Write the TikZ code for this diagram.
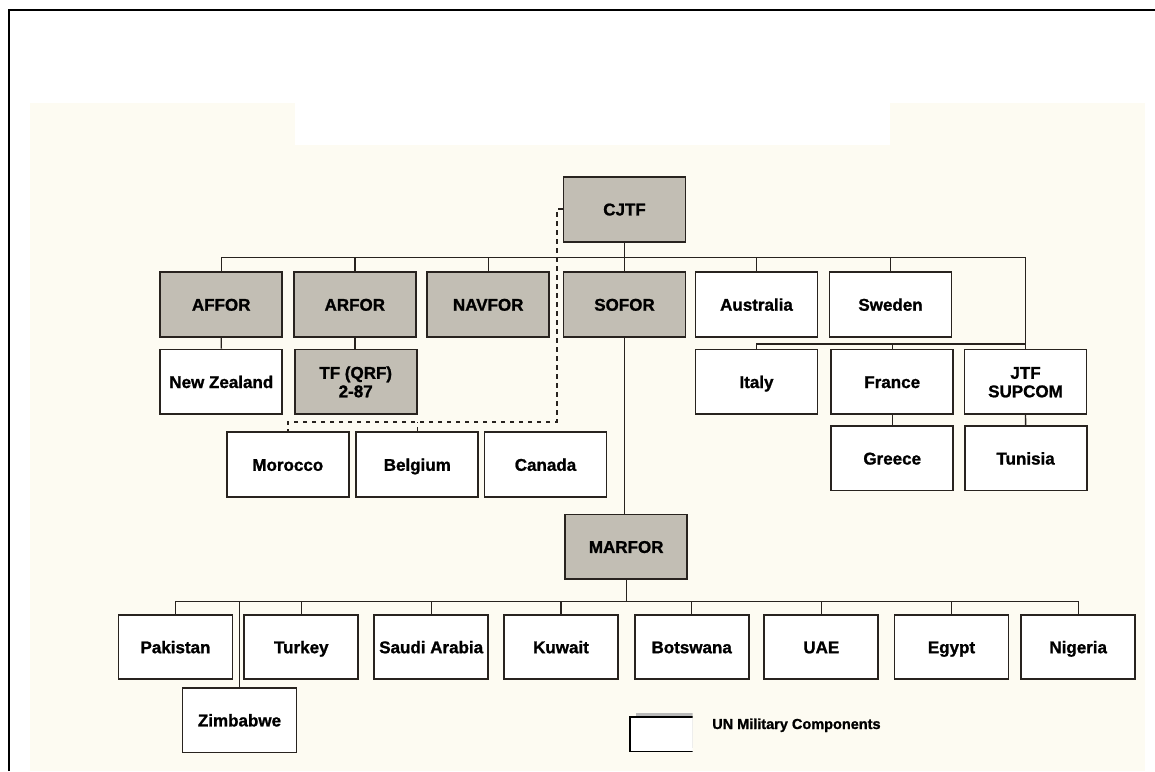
\documentclass[tikz,border=0pt]{standalone}
\usepackage{fontspec}
\setmainfont{Liberation Sans}[BoldFeatures={FakeBold=1.2}]
\usepackage{tikz}
\usepackage{xcolor}

\definecolor{scancream}{RGB}{253,251,242}
\definecolor{unitgray}{RGB}{194,190,180}
\definecolor{inkline}{RGB}{40,35,31}

\begin{document}
\begin{tikzpicture}[
    x=1pt, y=-1pt,
    unit/.style={draw=inkline, line width=1.8pt, rectangle, minimum width=122pt, minimum height=64.5pt, inner sep=0pt, align=center, text height=12.4pt, text depth=0pt, font=\fontsize{17}{18.5}\selectfont\bfseries},
    cmd/.style={unit, fill=unitgray},
    un/.style={unit, fill=white},
    nation/.style={un, minimum width=114pt},
    twoline/.style={text height=30.9pt},
    link/.style={draw=inkline, line width=1.4pt},
    dashlink/.style={link, line width=1.6pt, dash pattern=on 4.5pt off 4.5pt}
]

\useasboundingbox (0,0) rectangle (1155,771);

% Scanned page
\fill[scancream] (30,103) rectangle (1145,771);
\fill[white] (295,103) rectangle (890,145);
\draw[line width=2.5pt] (9,771) -- (9,10) -- (1155,10);

% Headquarters
\node[cmd, minimum height=65pt] (cjtf) at (624.5,209.2) {CJTF};

% Component commands and first contributors
\node[cmd] (affor) at (221.2,304.5) {AFFOR};
\node[cmd] (arfor) at (354.8,304.5) {ARFOR};
\node[cmd] (navfor) at (488.2,304.5) {NAVFOR};
\node[cmd] (sofor) at (624.5,304.5) {SOFOR};
\node[un] (australia) at (756.5,304.5) {Australia};
\node[un] (sweden) at (890.5,304.5) {Sweden};

% Second row
\node[un] (newzealand) at (221.3,381.8) {New Zealand};
\node[cmd, twoline] (tfqrf) at (355.7,381.8) {TF (QRF)\\2-87};
\node[un] (italy) at (756.5,381.8) {Italy};
\node[un] (france) at (892.2,381.8) {France};
\node[un, twoline] (jtfsupcom) at (1025.5,381.8) {JTF\\SUPCOM};

% Third row
\node[un] (morocco) at (287.8,464.6) {Morocco};
\node[un] (belgium) at (417.3,464.6) {Belgium};
\node[un] (canada) at (545.5,464.6) {Canada};
\node[un] (greece) at (892.2,458.3) {Greece};
\node[un] (tunisia) at (1025.6,458.3) {Tunisia};

% Marine forces
\node[cmd] (marfor) at (626.2,546.7) {MARFOR};

% MARFOR contributors
\node[nation] (pakistan) at (175.5,647) {Pakistan};
\node[nation] (turkey) at (301.3,647) {Turkey};
\node[nation] (saudi) at (431.2,647) {Saudi Arabia};
\node[nation] (kuwait) at (561,647) {Kuwait};
\node[nation] (botswana) at (691.7,647) {Botswana};
\node[nation] (uae) at (821.3,647) {UAE};
\node[nation] (egypt) at (951.5,647) {Egypt};
\node[nation] (nigeria) at (1078.2,647) {Nigeria};
\node[nation] (zimbabwe) at (239.5,720.2) {Zimbabwe};

% Bus lines
\coordinate (topbus) at (0,257.7);
\coordinate (midbus) at (0,344);
\coordinate (lowbus) at (0,601.5);
\coordinate (dashcorner) at (556.7,421.7);

% Connectors under CJTF
\draw[link] (cjtf.south) -- (sofor.north);
\draw[link] (affor.north) |- (jtfsupcom.north |- topbus) -- (jtfsupcom.north);
\draw[link] (arfor.north) -- (arfor.north |- topbus);
\draw[link] (navfor.north) -- (navfor.north |- topbus);
\draw[link] (australia.north) -- (australia.north |- topbus);
\draw[link] (sweden.north) -- (sweden.north |- topbus);
\draw[link] (italy.north) |- (jtfsupcom.north |- midbus);
\draw[link] (france.north) -- (france.north |- midbus);

% Connectors below
\draw[link] (affor.south) -- (newzealand.north);
\draw[link] (arfor.south) -- (arfor.south |- tfqrf.north);
\draw[link] (france.south) -- (greece.north);
\draw[link] (jtfsupcom.south) -- (tunisia.north);
\draw[link] (sofor.south) -- (sofor.south |- marfor.north);

% Dashed line
\draw[dashlink] (cjtf.west) -| (dashcorner) -| (morocco.north);
\draw[dashlink] (belgium.north) -- (belgium.north |- dashcorner);

% MARFOR bus
\draw[link] (marfor.south) -- (marfor.south |- lowbus);
\draw[link] (pakistan.north) |- (nigeria.north |- lowbus) -- (nigeria.north);
\draw[link] (turkey.north) -- (turkey.north |- lowbus);
\draw[link] (saudi.north) -- (saudi.north |- lowbus);
\draw[link] (kuwait.north) -- (kuwait.north |- lowbus);
\draw[link] (botswana.north) -- (botswana.north |- lowbus);
\draw[link] (uae.north) -- (uae.north |- lowbus);
\draw[link] (egypt.north) -- (egypt.north |- lowbus);
\draw[link] (zimbabwe.north) -- (zimbabwe.north |- lowbus);

% Legend
\begin{scope}
  \clip (620,705) rectangle (692.7,760);
  \fill[gray!55] (636,713) rectangle (700,748);
  \draw[draw=black, line width=1.8pt, fill=white] (630,717) rectangle (700,751.5);
\end{scope}
\node[anchor=base west, inner sep=0pt, font=\fontsize{14.5}{16}\selectfont\bfseries] (legendtext) at (712,729) {UN Military Components};

\end{tikzpicture}
\end{document}
